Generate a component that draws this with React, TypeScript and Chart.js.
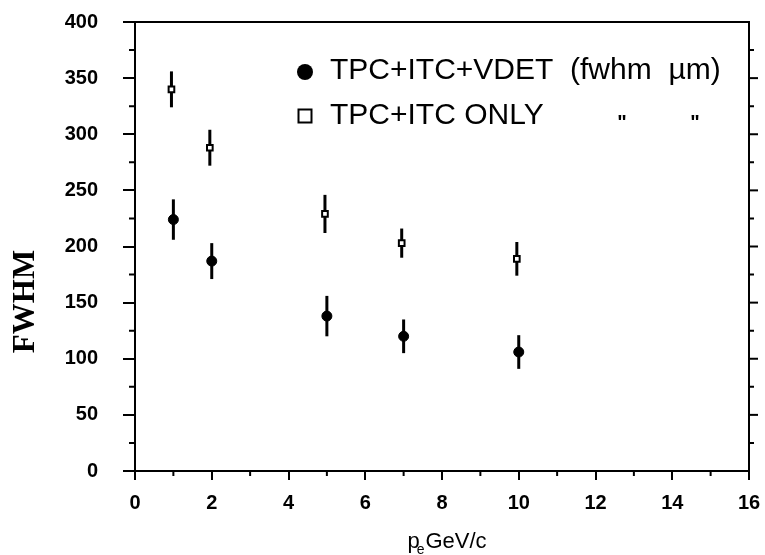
import { useEffect, useRef } from "react";
import { Chart, registerables } from "chart.js";

Chart.register(...registerables);

// ---- data ----
const vdetP = [1, 2, 5, 7, 10];
const vdetFwhm = [224, 187, 138, 120, 106];
const vdetErr = [18, 16, 18, 15, 15];

const tpcP = [0.95, 1.95, 4.95, 6.95, 9.95];
const tpcFwhm = [340, 288, 229, 203, 189];
const tpcErr = [16, 16, 17, 13, 15];

const legendLabels = ["TPC+ITC+VDET  (fwhm  \u00B5m)", "TPC+ITC ONLY"];
const dittoMark = "\"";
const yTitle = "FWHM";
const xTitleMain = "p";
const xTitleSub = "e";
const xTitleUnit = "GeV/c";

const SANS = '"Liberation Sans", Arial, sans-serif';
const SERIF = '"Liberation Serif", "Times New Roman", serif';

const decorPlugin = {
  id: "decor",
  beforeDatasetsDraw(chart: any) {
    const ctx = chart.ctx;
    const xs = chart.scales.x;
    const ys = chart.scales.y;
    ctx.save();
    ctx.strokeStyle = "#000";
    ctx.lineWidth = 3;
    chart.data.datasets.forEach((ds: any) => {
      const errs: number[] = ds.errors || [];
      ds.data.forEach((pt: any, j: number) => {
        const px = xs.getPixelForValue(pt.x);
        ctx.beginPath();
        ctx.moveTo(px, ys.getPixelForValue(pt.y - errs[j]));
        ctx.lineTo(px, ys.getPixelForValue(pt.y + errs[j]));
        ctx.stroke();
      });
    });
    ctx.restore();
  },
  afterDraw(chart: any) {
    const ctx = chart.ctx;
    const a = chart.chartArea;
    const xs = chart.scales.x;
    const ys = chart.scales.y;
    ctx.save();
    ctx.strokeStyle = "#000";
    ctx.fillStyle = "#000";
    // frame top & right
    ctx.lineWidth = 2;
    ctx.beginPath();
    ctx.moveTo(a.left, a.top);
    ctx.lineTo(a.right + 1, a.top);
    ctx.moveTo(a.right, a.top);
    ctx.lineTo(a.right, a.bottom);
    ctx.stroke();
    // minor ticks y (left) and ticks on right
    for (let v = 25; v < 400; v += 50) {
      const py = ys.getPixelForValue(v);
      ctx.beginPath();
      ctx.moveTo(a.left - 6, py);
      ctx.lineTo(a.left, py);
      ctx.moveTo(a.right, py);
      ctx.lineTo(a.right + 5, py);
      ctx.stroke();
    }
    for (let v = 50; v < 400; v += 50) {
      const py = ys.getPixelForValue(v);
      ctx.beginPath();
      ctx.moveTo(a.right, py);
      ctx.lineTo(a.right + 9, py);
      ctx.stroke();
    }
    // minor ticks x
    for (let v = 1; v < 16; v += 2) {
      const px = xs.getPixelForValue(v);
      ctx.beginPath();
      ctx.moveTo(px, a.bottom);
      ctx.lineTo(px, a.bottom + 5);
      ctx.stroke();
    }
    // y title
    ctx.save();
    ctx.translate(26, (a.top + a.bottom) / 2 + 55);
    ctx.rotate(-Math.PI / 2);
    ctx.font = `bold 31px ${SERIF}`;
    ctx.textAlign = "center";
    ctx.textBaseline = "middle";
    ctx.fillText(yTitle, 0, 0);
    ctx.restore();
    // x title with subscript
    ctx.textBaseline = "alphabetic";
    ctx.textAlign = "left";
    const mainFont = `22px ${SANS}`;
    const subFont = `14px ${SANS}`;
    ctx.font = mainFont;
    const wP = ctx.measureText(xTitleMain).width;
    const wU = ctx.measureText(xTitleUnit).width;
    ctx.font = subFont;
    const wS = ctx.measureText(xTitleSub).width;
    const total = wP + wS + wU;
    const tx = (a.left + a.right) / 2 + 6 - total / 2;
    const base = 548;
    ctx.font = mainFont;
    ctx.fillText(xTitleMain, tx, base);
    ctx.font = subFont;
    ctx.fillText(xTitleSub, tx + wP - 3, base + 6);
    ctx.font = mainFont;
    ctx.fillText(xTitleUnit, tx + wP + wS - 2, base);
    // legend
    const lx = 305;
    const ly1 = 71;
    const ly2 = 116;
    ctx.beginPath();
    ctx.arc(lx, ly1 + 1, 8, 0, Math.PI * 2);
    ctx.fill();
    ctx.lineWidth = 2;
    ctx.strokeRect(lx - 6.5, ly2 - 6.5, 13, 13);
    ctx.font = `30px ${SANS}`;
    ctx.textBaseline = "middle";
    ctx.fillText(legendLabels[0], 330, ly1);
    ctx.fillText(legendLabels[1], 330, ly2);
    ctx.font = `bold 20px ${SANS}`;
    ctx.textBaseline = "alphabetic";
    ctx.textAlign = "center";
    ctx.fillText(dittoMark, 622, 129);
    ctx.fillText(dittoMark, 695, 129);
    ctx.restore();
  },
};

export default function App() {
  const ref = useRef<HTMLCanvasElement | null>(null);
  useEffect(() => {
    if (!ref.current) return;
    const chart = new Chart(ref.current, {
      type: "scatter",
      data: {
        datasets: [
          {
            label: legendLabels[0],
            data: vdetP.map((p, i) => ({ x: p, y: vdetFwhm[i] })),
            errors: vdetErr,
            pointStyle: "circle",
            pointRadius: 5,
            pointBackgroundColor: "#000",
            pointBorderColor: "#000",
            pointBorderWidth: 1,
          } as any,
          {
            label: legendLabels[1],
            data: tpcP.map((p, i) => ({ x: p, y: tpcFwhm[i] })),
            errors: tpcErr,
            pointStyle: "rect",
            pointRadius: 4,
            pointBackgroundColor: "#fff",
            pointBorderColor: "#000",
            pointBorderWidth: 2,
          } as any,
        ],
      },
      options: {
        animation: false,
        responsive: true,
        maintainAspectRatio: false,
        layout: { padding: { top: 22, right: 16, left: 0, bottom: 0 } },
        plugins: {
          legend: { display: false },
          tooltip: { enabled: false },
        },
        scales: {
          x: {
            type: "linear",
            min: 0,
            max: 16,
            afterFit: (s: any) => {
              s.height = 84;
              s.paddingLeft = 0;
              s.paddingRight = 0;
              s.paddingTop = 0;
              s.paddingBottom = 0;
            },
            ticks: {
              stepSize: 2,
              color: "#000",
              padding: 11,
              font: { family: SANS, size: 20, weight: "bold" },
            },
            grid: {
              display: true,
              drawOnChartArea: false,
              drawTicks: true,
              tickLength: 9,
              color: "#000",
              lineWidth: 2,
            },
            border: { display: true, color: "#000", width: 2 },
          },
          y: {
            type: "linear",
            min: 0,
            max: 400,
            afterFit: (s: any) => {
              s.width = 135;
              s.paddingLeft = 0;
              s.paddingRight = 0;
              s.paddingTop = 0;
              s.paddingBottom = 0;
            },
            ticks: {
              stepSize: 50,
              color: "#000",
              padding: 25,
              font: { family: SANS, size: 20, weight: "bold" },
            },
            grid: {
              display: true,
              drawOnChartArea: false,
              drawTicks: true,
              tickLength: 12,
              color: "#000",
              lineWidth: 2,
            },
            border: { display: true, color: "#000", width: 2 },
          },
        },
      },
      plugins: [decorPlugin],
    });
    return () => chart.destroy();
  }, []);
  return (
    <div style={{ position: "fixed", left: 0, top: 0, width: 765, height: 555, background: "#fff" }}>
      <canvas ref={ref} />
    </div>
  );
}
